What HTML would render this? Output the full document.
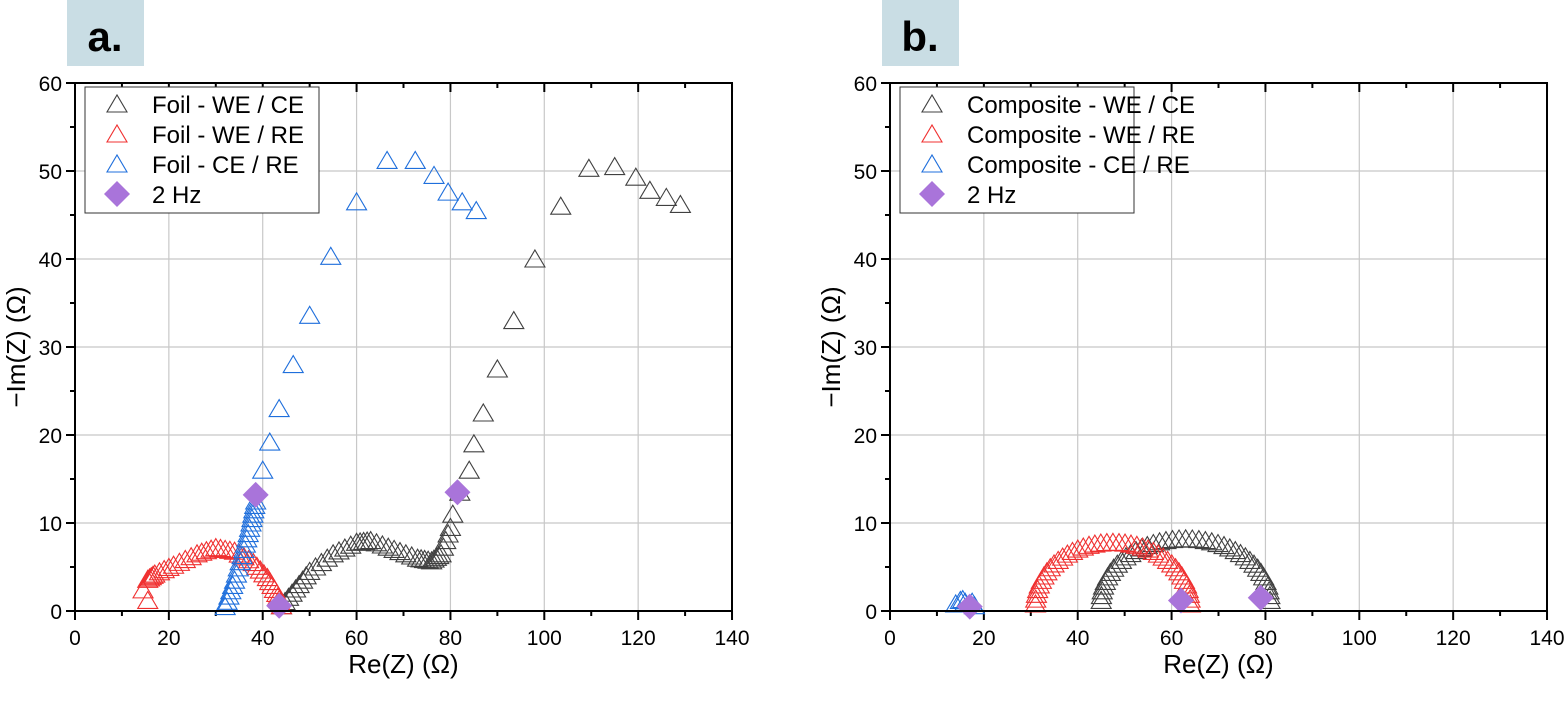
<!DOCTYPE html>
<html><head><meta charset="utf-8"><style>
body{margin:0;background:#fff;}
svg text{font-family:"Liberation Sans",Arial,sans-serif;}
</style></head><body>
<svg id="s" width="1567" height="698" xmlns="http://www.w3.org/2000/svg"></svg>
<script>
const S=document.getElementById('s');let h='';
const Y0=611,YS=8.8;
function panel(L,lab,names,series,dia){
  const R=L+657,T=83,B=611;
  const X=v=>L+v*4.693, Y=v=>Y0-v*YS;
  h+=`<rect x="${L-8}" y="0" width="77" height="66" fill="#c9dde4"/>`;
  h+=`<text x="${L+30}" y="51" font-size="42" font-weight="bold" text-anchor="middle">${lab}</text>`;
  for(let v=20;v<140;v+=20)h+=`<line x1="${X(v)}" y1="${T}" x2="${X(v)}" y2="${B}" stroke="#c8c8c8" stroke-width="1.2"/>`;
  for(let v=10;v<60;v+=10)h+=`<line x1="${L}" y1="${Y(v)}" x2="${R}" y2="${Y(v)}" stroke="#c8c8c8" stroke-width="1.2"/>`;
  for(let v=0;v<=140;v+=10){const big=v%20==0;const x=X(v);
    h+=`<line x1="${x}" y1="${B}" x2="${x}" y2="${B+(big?9:5)}" stroke="#000" stroke-width="2"/>`;
    h+=`<line x1="${x}" y1="${T}" x2="${x}" y2="${T+(big?9:5)}" stroke="#000" stroke-width="2"/>`;
    if(big)h+=`<text x="${x}" y="${B+34}" font-size="21" text-anchor="middle">${v}</text>`;}
  for(let v=0;v<=60;v+=5){const big=v%10==0;const y=Y(v);
    h+=`<line x1="${L}" y1="${y}" x2="${L-(big?9:5)}" y2="${y}" stroke="#000" stroke-width="2"/>`;
    if(big)h+=`<text x="${L-13}" y="${y+8}" font-size="21" text-anchor="end">${v}</text>`;}
  const cols=['#404040','#f03030','#1f6fdc'];
  series.forEach((pts,i)=>{pts.forEach(p=>{const x=X(p[0]),y=Y(p[1]);
    h+=`<polygon points="${x-10},${y+8} ${x+10},${y+8} ${x},${y-9}" fill="none" stroke="${cols[i]}" stroke-width="1.1"/>`;});});
  dia.forEach(p=>{const x=X(p[0]),y=Y(p[1]);h+=`<polygon points="${x-13},${y} ${x},${y-13} ${x+13},${y} ${x},${y+13}" fill="#a974da"/>`;});
  h+=`<rect x="${L}" y="${T}" width="657" height="${B-T}" fill="none" stroke="#000" stroke-width="2"/>`;
  const lw=names[0].length>20?312:234;
  h+=`<rect x="${L+10}" y="87" width="${lw}" height="126" fill="#fff" stroke="#333" stroke-width="1"/>`;
  const ys=[104,134,164,194];
  for(let i=0;i<4;i++){const cx=L+42,cy=ys[i];
    if(i<3)h+=`<polygon points="${cx-10},${cy+8} ${cx+10},${cy+8} ${cx},${cy-9}" fill="none" stroke="${cols[i]}" stroke-width="1.1"/>`;
    else h+=`<polygon points="${cx-13},${cy} ${cx},${cy-13} ${cx+13},${cy} ${cx},${cy+13}" fill="#a974da"/>`;
    h+=`<text x="${L+77}" y="${cy+9}" font-size="24">${i<3?names[i]:'2 Hz'}</text>`;}
  h+=`<text x="${(L+R)/2}" y="673" font-size="26" text-anchor="middle">Re(Z) (Ω)</text>`;
  h+=`<text transform="translate(${L-50},347) rotate(-90)" font-size="26" text-anchor="middle">−Im(Z) (Ω)</text>`;
}
function dense(cp,n){const o=[];for(let i=0;i<cp.length-1;i++){for(let k=0;k<n;k++){const t=k/n;o.push([cp[i][0]+(cp[i+1][0]-cp[i][0])*t,cp[i][1]+(cp[i+1][1]-cp[i][1])*t]);}}o.push(cp[cp.length-1]);return o;}
function arc(x1,x2,hgt,n,y0){const o=[];for(let i=0;i<=n;i++){const a=Math.PI*i/n;o.push([(x1+x2)/2-(x2-x1)/2*Math.cos(a),y0+hgt*Math.sin(a)]);}return o;}
const blackA=dense([[44,0.6],[47,2.5],[50,4.5],[55,6.5],[60,7.8],[63,8],[68,7],[73,6],[76,5.7],[78,6.5],[80,9.5]],4).concat([[80.5,11],[82,13.5],[84,16],[85,19],[87,22.5],[90,27.5],[93.5,33],[98,40],[103.5,46],[109.5,50.3],[115,50.5],[119.5,49.3],[122.5,47.8],[126,47],[129,46.2]]);
const redA=dense([[44,0.6],[43,2],[41,3.8],[38,5.5],[34,6.8],[30,7.2],[26,6.5],[21,5.2],[17,4.2],[15.5,3.6]],4).concat([[14.5,2.4],[15.5,1.2]]);
const blueA=dense([[32,0.5],[34,3.5],[36,7],[37.5,10],[38.5,12.5]],5).concat([[40,16],[41.5,19.2],[43.5,23],[46.5,28],[50,33.6],[54.5,40.3],[60,46.5],[66.5,51.2],[72.5,51.2],[76.5,49.5],[79.5,47.6],[82.5,46.5],[85.5,45.5]]);
panel(75,'a.',['Foil - WE / CE','Foil - WE / RE','Foil - CE / RE'],[blackA,redA,blueA],[[38.5,13.2],[43.5,0.6],[81.5,13.5]]);
const blackB=arc(45,81,7,40,1.2);
const redB=arc(31,64,7,40,0.8);
const blueB=[[14,0.8],[15,1.2],[15.5,1.3],[16,1],[17.5,1],[18,0.6]];
panel(890,'b.',['Composite - WE / CE','Composite - WE / RE','Composite - CE / RE'],[blackB,redB,blueB],[[17,0.5],[62,1.2],[79,1.5]]);
S.innerHTML=h;
</script>
</body></html>
